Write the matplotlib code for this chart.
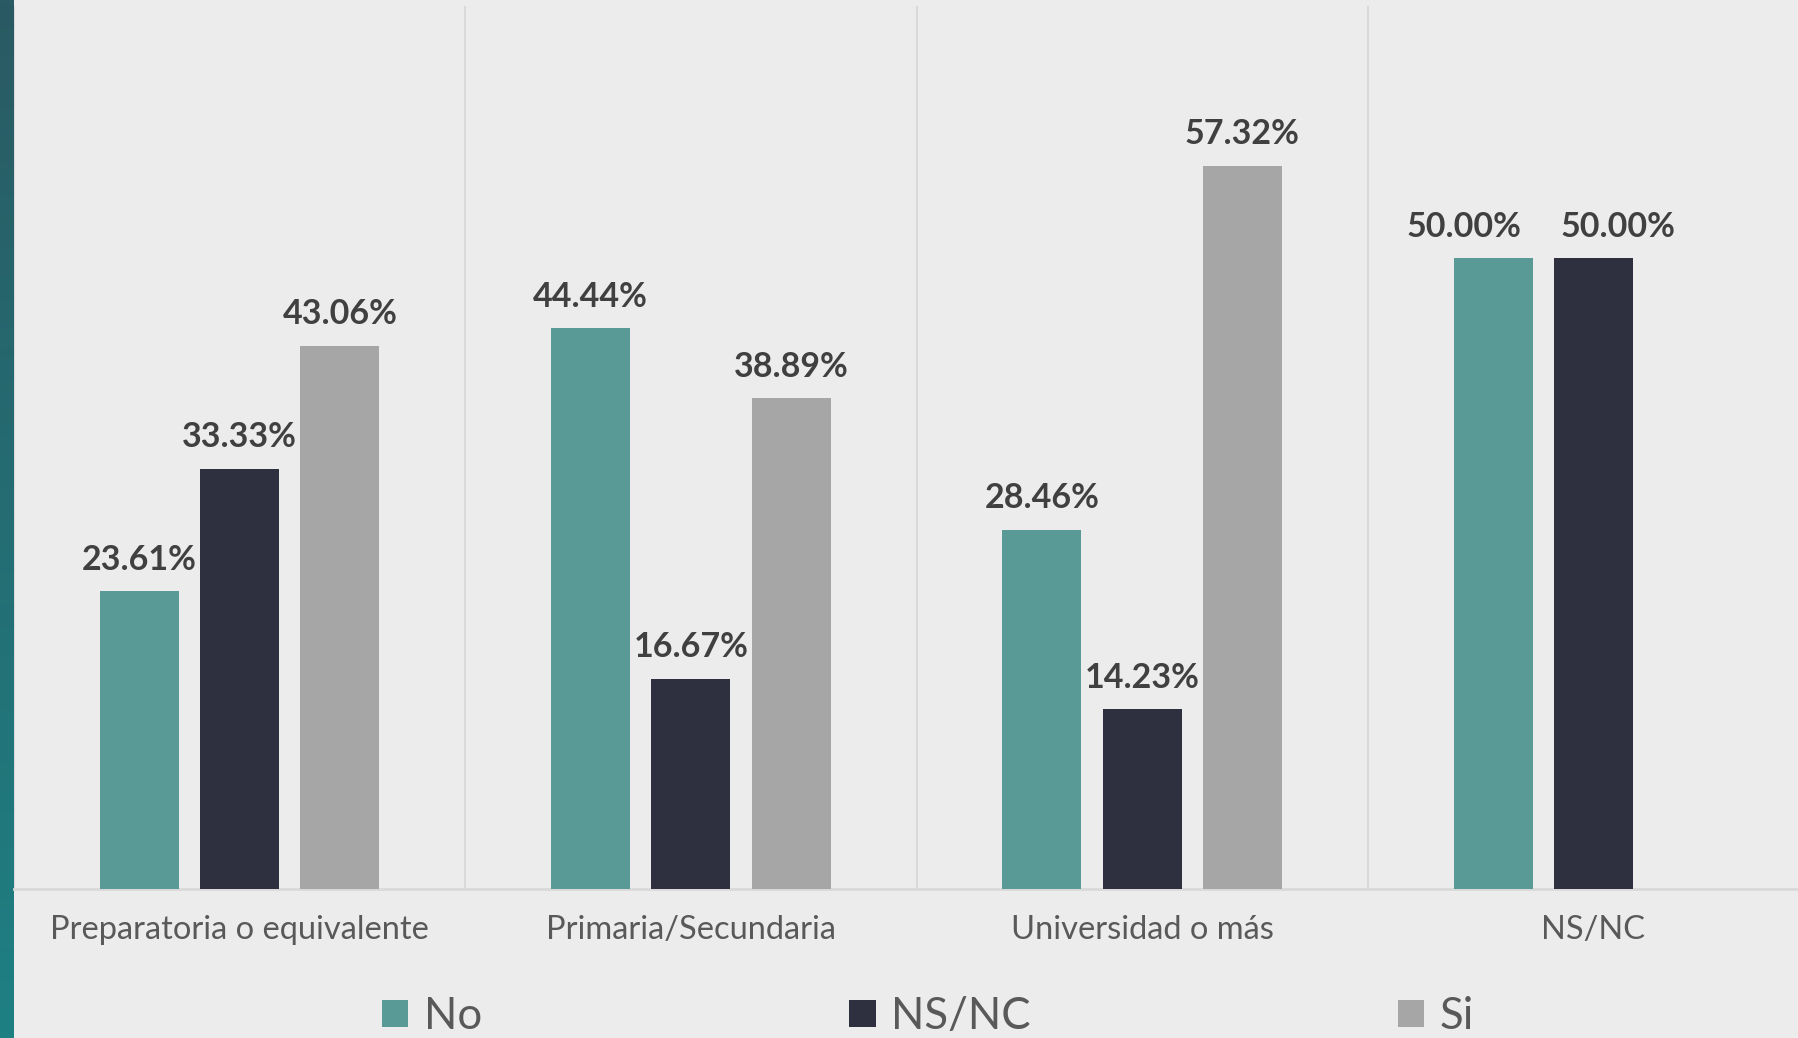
import numpy as np
import matplotlib
matplotlib.use('Agg')
import matplotlib.pyplot as plt
from matplotlib.patches import Patch

categories = ['Preparatoria o equivalente', 'Primaria/Secundaria', 'Universidad o más', 'NS/NC']
series = ['No', 'NS/NC', 'Si']
no_vals = [23.61, 44.44, 28.46, 50.00]
nsnc_vals = [33.33, 16.67, 14.23, 50.00]
si_vals = [43.06, 38.89, 57.32, np.nan]
colors = ['#5a9a96', '#2e3040', '#a6a6a6']

W, H = 1798, 1038
fig = plt.figure(figsize=(W / 100, H / 100), dpi=100)
fig.patch.set_facecolor('#ececec')
plt.rcParams['font.family'] = ['Lato', 'DejaVu Sans']

# left gradient stripe
sax = fig.add_axes([0, 0, 14 / W, 1])
grad = np.linspace(0, 1, 256).reshape(-1, 1)
cmap = matplotlib.colors.LinearSegmentedColormap.from_list('s', ['#2a5a63', '#1e8083'])
sax.imshow(grad, aspect='auto', cmap=cmap, extent=[0, 1, 1, 0])
sax.axis('off')

left, right = 14, 1819
base, top = 889, 6
ax = fig.add_axes([left / W, (H - base) / H, (right - left) / W, (base - top) / H])
ax.set_facecolor('#ececec')

x = np.arange(len(categories))
width = 0.175
offset = 0.222
# labels in the last group are nudged apart so they don't collide
nudge = {(0, 3): -21, (1, 3): 18}
for i, (vals, name) in enumerate(zip([no_vals, nsnc_vals, si_vals], series)):
    pos = x + (i - 1) * offset
    ax.bar(pos, vals, width, color=colors[i], label=name, zorder=3)
    for j, (p, v) in enumerate(zip(pos, vals)):
        if np.isnan(v):
            continue
        ax.annotate(f'{v:.2f}%', (p, v), xytext=(nudge.get((i, j), 0), 15.5),
                    textcoords='offset points', ha='center', va='baseline',
                    fontsize=24.5, fontweight='bold', color='#404040', zorder=4)

ax.set_xlim(-0.5, len(categories) - 0.5)
ax.set_ylim(0, 70)
ax.set_yticks([])
for xv in np.arange(-0.5, len(categories), 1.0):
    ax.axvline(xv, color='#d9d9d9', linewidth=1.5, zorder=1)
for s in ['top', 'right', 'left']:
    ax.spines[s].set_visible(False)
ax.spines['bottom'].set_color('#d9d9d9')
ax.spines['bottom'].set_linewidth(2)
ax.set_xticks(x)
ax.set_xticklabels(categories, fontsize=23.5, color='#595959')
ax.tick_params(axis='x', length=0, pad=19)

handles = [Patch(facecolor=c) for c in colors]
fig.legend(handles, series, loc='lower center', bbox_to_anchor=(928 / W, -0.037),
           ncol=3, frameon=False, fontsize=31.5, labelcolor='#595959',
           handlelength=0.6, handleheight=0.6, handletextpad=0.35,
           columnspacing=8.4)

fig.savefig('out.png', dpi=100, facecolor=fig.get_facecolor())
